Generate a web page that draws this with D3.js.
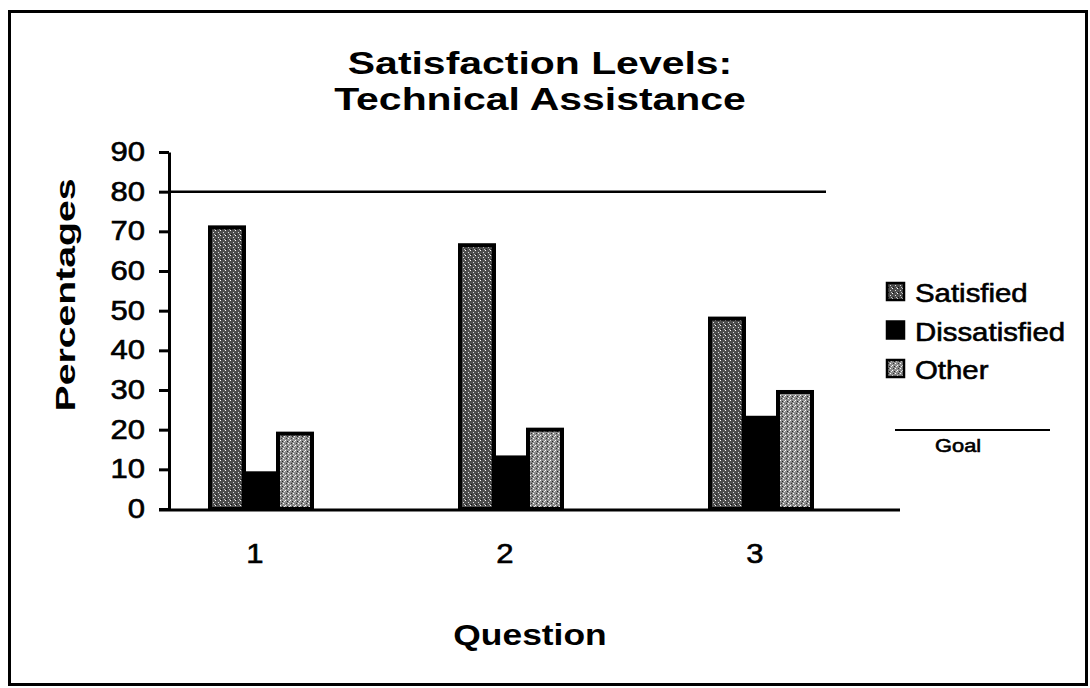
<!DOCTYPE html>
<html>
<head>
<meta charset="utf-8">
<script src="https://cdn.jsdelivr.net/npm/d3@7"></script>
<style>
  body { margin: 0; background: #fff; }
  svg { display: block; font-family: "Liberation Sans", Arial, Helvetica, sans-serif; }
  .heavy { stroke: #000; stroke-width: 0.6px; }
</style>
</head>
<body>
<svg id="chart" width="1090" height="688"></svg>
<script>
// data
var questions = ["1", "2", "3"];
var seriesNames = ["Satisfied", "Dissatisfied", "Other"];
var satisfied = [71, 66.5, 48];
var dissatisfied = [9, 13, 23];
var other = [19, 20, 29.5];
var goal = 80;
var yTicks = [0, 10, 20, 30, 40, 50, 60, 70, 80, 90];
var titleLines = ["Satisfaction Levels:", "Technical Assistance"];

var values = { "Satisfied": satisfied, "Dissatisfied": dissatisfied, "Other": other };
var fills = { "Satisfied": "url(#stippleDark)", "Dissatisfied": "#000", "Other": "url(#stippleLight)" };

var svg = d3.select("#chart");

// widen glyphs a bit, the slide font is wider than Arial
function stretch(sel, k) {
  sel.each(function() {
    var w = this.getComputedTextLength();
    d3.select(this).attr("textLength", w * k).attr("lengthAdjust", "spacingAndGlyphs");
  });
}

// stipple patterns
var defs = svg.append("defs");
function stipple(id, base, specks) {
  var p = defs.append("pattern").attr("id", id)
      .attr("width", 5).attr("height", 5).attr("patternUnits", "userSpaceOnUse");
  p.append("rect").attr("width", 5).attr("height", 5).attr("fill", base);
  specks.forEach(function(s) {
    p.append("rect").attr("x", s[0]).attr("y", s[1]).attr("width", 1).attr("height", 1).attr("fill", s[2]);
  });
}
stipple("stippleDark", "#4d4d4d", [[0, 0, "#fff"], [3, 2, "#ddd"], [1, 4, "#111"], [4, 4, "#bbb"]]);
stipple("stippleLight", "#8c8c8c", [[0, 0, "#fff"], [2, 1, "#222"], [3, 3, "#fff"], [1, 3, "#333"], [4, 1, "#eee"]]);

// frame
svg.append("rect")
  .attr("x", 9.5).attr("y", 11.5).attr("width", 1077).attr("height", 673)
  .attr("fill", "none").attr("stroke", "#000").attr("stroke-width", 3);

// title
svg.selectAll(".title").data(titleLines).enter().append("text")
  .attr("class", "title")
  .attr("x", 540)
  .attr("y", function(d, i) { return 74 + i * 36; })
  .attr("text-anchor", "middle")
  .attr("font-size", "31px").attr("font-weight", "bold")
  .text(function(d) { return d; })
  .call(stretch, 1.32);

var y = d3.scaleLinear().domain([0, 90]).range([509, 152]);
var x0 = d3.scaleBand().domain(questions).range([136, 886]);
var groupWidth = 102;
var x1 = d3.scaleBand().domain(seriesNames).range([0, groupWidth]);

// y axis
var yAxis = svg.append("g")
  .attr("transform", "translate(169,0)")
  .call(d3.axisLeft(y).tickValues(yTicks).tickSize(10).tickPadding(14).tickSizeOuter(0));
yAxis.select(".domain").attr("stroke-width", 3);
yAxis.selectAll(".tick line").attr("stroke-width", 3);
yAxis.selectAll(".tick text").attr("font-size", "27px").attr("fill", "#000")
  .attr("class", "heavy")
  .style("font-family", "inherit").call(stretch, 1.15);

svg.append("text")
  .attr("transform", "translate(75,295) rotate(-90)")
  .attr("text-anchor", "middle")
  .attr("font-size", "27px").attr("font-weight", "bold")
  .text("Percentages")
  .call(stretch, 1.45);

// goal line
svg.append("line")
  .attr("x1", 169).attr("x2", 826)
  .attr("y1", y(goal)).attr("y2", y(goal))
  .attr("stroke", "#000").attr("stroke-width", 2.5);

// bars
seriesNames.forEach(function(s) {
  svg.selectAll(".bar-" + s).data(questions).enter().append("rect")
    .attr("class", "bar-" + s)
    .attr("x", function(q) { return x0(q) + (x0.bandwidth() - groupWidth) / 2 + x1(s); })
    .attr("width", x1.bandwidth())
    .attr("y", function(q, i) { return y(values[s][i]); })
    .attr("height", function(q, i) { return y(0) - y(values[s][i]); })
    .attr("fill", fills[s])
    .attr("stroke", "#000").attr("stroke-width", 4);
});

// x axis
svg.append("line")
  .attr("x1", 159).attr("x2", 900)
  .attr("y1", y(0) + 1).attr("y2", y(0) + 1)
  .attr("stroke", "#000").attr("stroke-width", 3);

svg.selectAll(".xlab").data(questions).enter().append("text")
  .attr("class", "xlab heavy")
  .attr("x", function(q) { return x0(q) + x0.bandwidth() / 2 - 6; })
  .attr("y", 563)
  .attr("text-anchor", "middle")
  .attr("font-size", "27px")
  .text(function(q) { return q; })
  .call(stretch, 1.15);

svg.append("text")
  .attr("x", 530).attr("y", 645)
  .attr("text-anchor", "middle")
  .attr("font-size", "30px").attr("font-weight", "bold")
  .text("Question")
  .call(stretch, 1.18);

// legend
var legend = svg.append("g").attr("transform", "translate(887,283)");
var item = legend.selectAll("g").data(seriesNames).enter().append("g")
  .attr("transform", function(d, i) { return "translate(0," + (i * 38.5) + ")"; });
item.append("rect")
  .attr("width", 17).attr("height", 17)
  .attr("fill", function(d) { return fills[d]; })
  .attr("stroke", "#000").attr("stroke-width", 2.5);
item.append("text")
  .attr("class", "heavy")
  .attr("x", 28).attr("y", 19)
  .attr("font-size", "26px")
  .text(function(d) { return d; })
  .call(stretch, 1.13);

svg.append("line")
  .attr("x1", 895).attr("x2", 1050).attr("y1", 430).attr("y2", 430)
  .attr("stroke", "#000").attr("stroke-width", 2);
svg.append("text")
  .attr("class", "heavy")
  .attr("x", 935).attr("y", 452)
  .attr("font-size", "19px")
  .text("Goal")
  .call(stretch, 1.15);
</script>
</body>
</html>
